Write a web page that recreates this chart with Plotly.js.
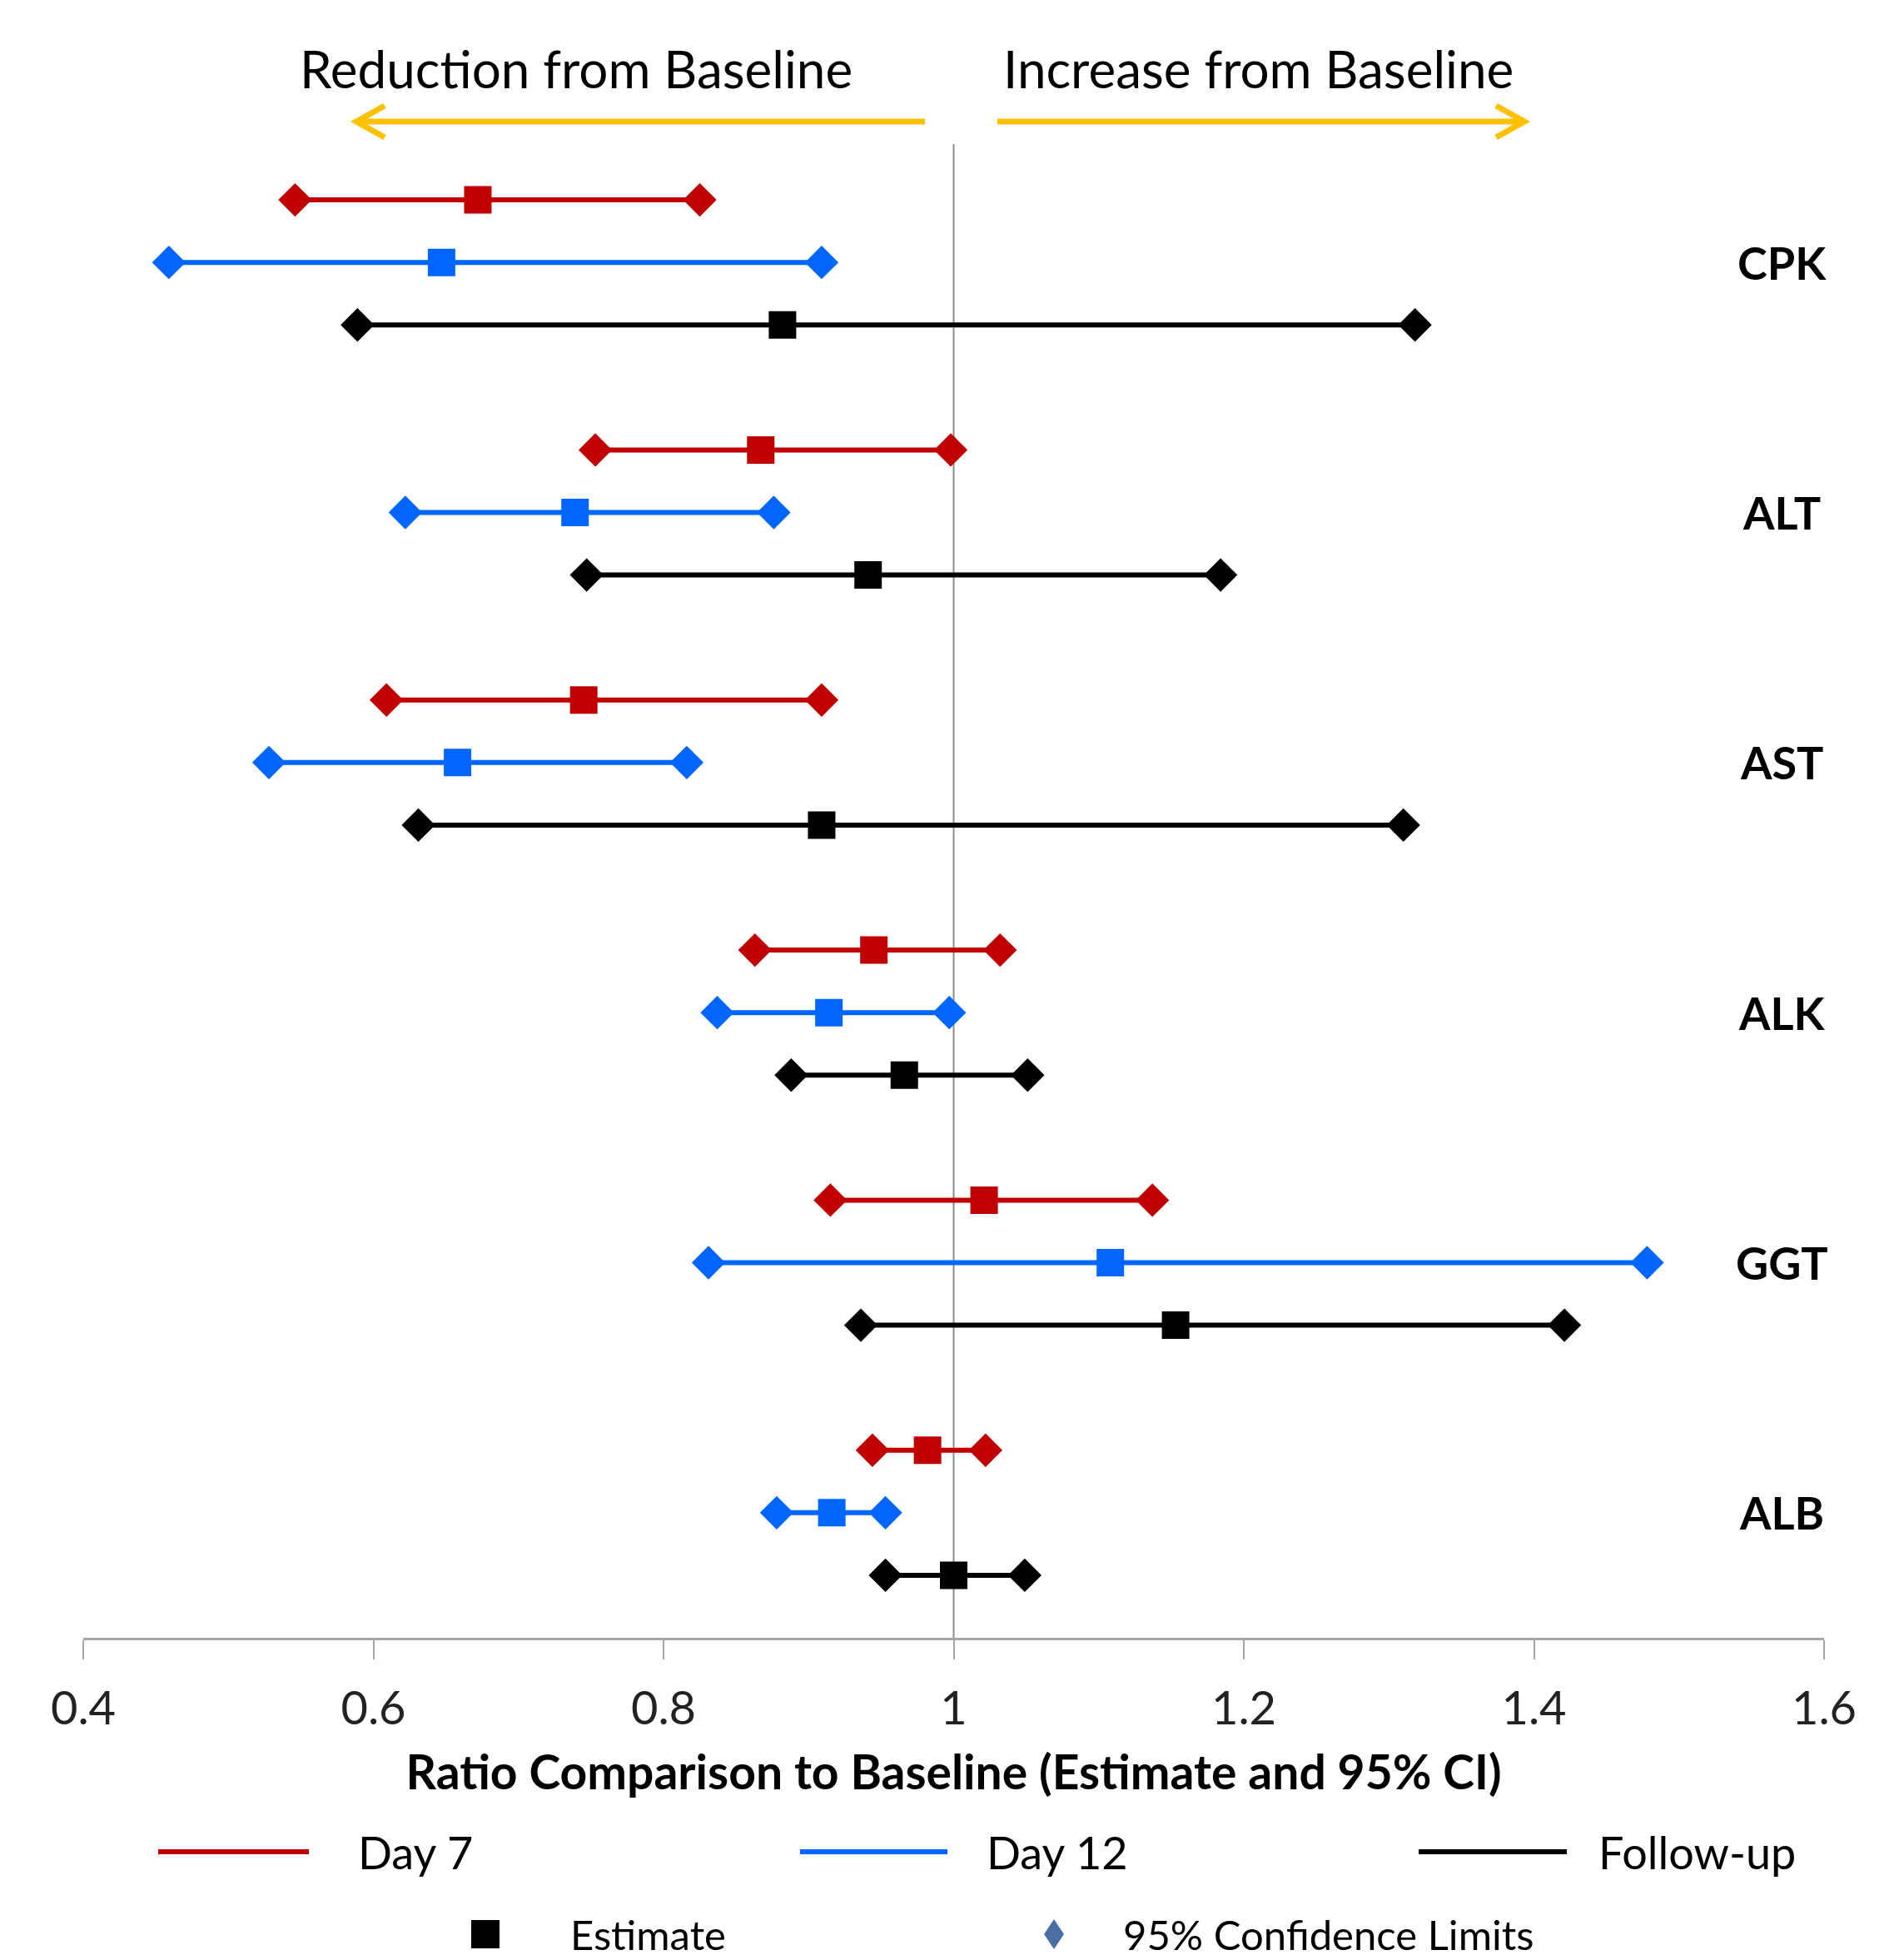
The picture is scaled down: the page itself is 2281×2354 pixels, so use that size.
<!DOCTYPE html>
<html>
<head>
<meta charset="utf-8">
<script src="https://cdn.plot.ly/plotly-3.0.1.min.js"></script>
<style>html,body{margin:0;padding:0;background:#fff;}#chart{width:2281px;height:2354px;}</style>
</head>
<body>
<div id="chart"></div>
<script>
// ---- Data ----
const tests = ['CPK', 'ALT', 'AST', 'ALK', 'GGT', 'ALB'];
const seriesNames = ['Day 7', 'Day 12', 'Follow-up'];
const day7Lower = [0.546, 0.753, 0.609, 0.863, 0.915, 0.944];
const day7Estimate = [0.672, 0.867, 0.745, 0.945, 1.021, 0.982];
const day7Upper = [0.825, 0.998, 0.909, 1.032, 1.137, 1.022];
const day12Lower = [0.459, 0.622, 0.528, 0.837, 0.831, 0.878];
const day12Estimate = [0.647, 0.739, 0.658, 0.914, 1.108, 0.916];
const day12Upper = [0.909, 0.876, 0.816, 0.997, 1.478, 0.953];
const followLower = [0.589, 0.747, 0.631, 0.888, 0.936, 0.953];
const followEstimate = [0.882, 0.941, 0.909, 0.966, 1.153, 1.000];
const followUpper = [1.318, 1.184, 1.310, 1.051, 1.421, 1.049];
const tickVals = [0.4, 0.6, 0.8, 1.0, 1.2, 1.4, 1.6];
const tickText = ['0.4', '0.6', '0.8', '1', '1.2', '1.4', '1.6'];

// ---- Styling ----
const colors = ['#C00000', '#0066FF', '#000000'];
const FONT = 'Lato, "Open Sans", "DejaVu Sans", sans-serif';
const W = 2281, H = 2354;
const M = {l: 100, r: 90, t: 165, b: 387};
const PW = W - M.l - M.r, PH = H - M.t - M.b;
const px = x => (x - M.l) / PW;          // pixel -> paper (x)
const py = y => (M.t + PH - y) / PH;     // pixel -> paper (y)

const groups = [
  [day7Lower, day7Estimate, day7Upper],
  [day12Lower, day12Estimate, day12Upper],
  [followLower, followEstimate, followUpper]
];
const rowPos = (i, j) => i * 4 + j;

const traces = [];
groups.forEach((g, j) => {
  const [lo, est, hi] = g;
  const xs = [], ys = [];
  tests.forEach((t, i) => {
    xs.push(lo[i], hi[i], null);
    ys.push(rowPos(i, j), rowPos(i, j), null);
  });
  traces.push({
    type: 'scatter', mode: 'lines+markers', name: seriesNames[j] + ' 95% CI',
    x: xs, y: ys, showlegend: false, hoverinfo: 'x',
    line: {color: colors[j], width: 6},
    marker: {symbol: 'diamond', size: 31, color: colors[j], line: {width: 0}}
  });
});
groups.forEach((g, j) => {
  const est = g[1];
  traces.push({
    type: 'scatter', mode: 'markers', name: seriesNames[j] + ' Estimate',
    x: est, y: tests.map((t, i) => rowPos(i, j)), showlegend: false, hoverinfo: 'x',
    marker: {symbol: 'square', size: 33, color: colors[j], line: {width: 0}}
  });
});

const annotations = [];
tests.forEach((t, i) => {
  annotations.push({
    xref: 'paper', yref: 'y', x: px(2140), y: rowPos(i, 1), text: '<b>' + t + '</b>',
    showarrow: false, xanchor: 'center', yanchor: 'middle',
    font: {family: FONT, size: 54, color: '#000'}
  });
});
annotations.push(
  {xref: 'paper', yref: 'paper', x: px(692), y: py(82), text: 'Reduction from Baseline', showarrow: false,
   xanchor: 'center', yanchor: 'middle', font: {family: FONT, size: 62, color: '#000'}},
  {xref: 'paper', yref: 'paper', x: px(1511), y: py(82), text: 'Increase from Baseline', showarrow: false,
   xanchor: 'center', yanchor: 'middle', font: {family: FONT, size: 62, color: '#000'}}
);
// legend texts
const legRow1 = 2224, legRow2 = 2323;
const legLines = [[190, 371, 428], [961, 1138, 1183], [1704, 1882, 1918]];
legLines.forEach((L, j) => {
  annotations.push({xref: 'paper', yref: 'paper', x: px(L[2]), y: py(legRow1), text: seriesNames[j],
    showarrow: false, xanchor: 'left', yanchor: 'middle', font: {family: FONT, size: 54, color: '#000'}});
});
annotations.push(
  {xref: 'paper', yref: 'paper', x: px(683), y: py(legRow2), text: 'Estimate', showarrow: false,
   xanchor: 'left', yanchor: 'middle', font: {family: FONT, size: 49, color: '#000'}},
  {xref: 'paper', yref: 'paper', x: px(1347), y: py(legRow2), text: '95% Confidence Limits', showarrow: false,
   xanchor: 'left', yanchor: 'middle', font: {family: FONT, size: 49, color: '#000'}}
);

const orange = '#FFC000';
const shapes = [
  // reference line at ratio 1
  {type: 'line', xref: 'x', yref: 'paper', x0: 1, x1: 1, y0: 0, y1: py(173), line: {color: '#8C8C8C', width: 2}, layer: 'below'},
  // arrows
  {type: 'line', xref: 'paper', yref: 'paper', x0: px(1111), x1: px(430), y0: py(146), y1: py(146), line: {color: orange, width: 7}},
  {type: 'path', xref: 'paper', yref: 'paper',
   path: `M ${px(462)},${py(127)} L ${px(428)},${py(146)} L ${px(462)},${py(165)}`, line: {color: orange, width: 7}},
  {type: 'line', xref: 'paper', yref: 'paper', x0: px(1198), x1: px(1829), y0: py(146), y1: py(146), line: {color: orange, width: 7}},
  {type: 'path', xref: 'paper', yref: 'paper',
   path: `M ${px(1797)},${py(127)} L ${px(1831)},${py(146)} L ${px(1797)},${py(165)}`, line: {color: orange, width: 7}}
];
legLines.forEach((L, j) => {
  shapes.push({type: 'line', xref: 'paper', yref: 'paper', x0: px(L[0]), x1: px(L[1]), y0: py(legRow1), y1: py(legRow1),
    line: {color: colors[j], width: 6}});
});
shapes.push(
  {type: 'rect', xref: 'paper', yref: 'paper', x0: px(583 - 17), x1: px(583 + 17), y0: py(legRow2 + 17), y1: py(legRow2 - 17),
   fillcolor: '#000', line: {width: 0}},
  {type: 'path', xref: 'paper', yref: 'paper',
   path: `M ${px(1266 - 12)},${py(legRow2)} L ${px(1266)},${py(legRow2 - 18)} L ${px(1266 + 12)},${py(legRow2)} L ${px(1266)},${py(legRow2 + 18)} Z`,
   fillcolor: '#4A6FA5', line: {width: 0}}
);

const layout = {
  width: W, height: H,
  margin: M,
  paper_bgcolor: '#fff', plot_bgcolor: '#fff',
  font: {family: FONT, color: '#000'},
  showlegend: false,
  xaxis: {
    range: [0.4, 1.6], tickvals: tickVals, ticktext: tickText,
    showgrid: false, zeroline: false, showline: true, linecolor: '#A6A6A6', linewidth: 3,
    ticks: 'outside', ticklen: 23, tickwidth: 2, tickcolor: '#A6A6A6',
    ticklabelstandoff: 11,
    tickfont: {family: FONT, size: 56, color: '#222'},
    title: {text: '<b>Ratio Comparison to Baseline (Estimate and 95% CI)</b>', standoff: 27,
            font: {family: FONT, size: 57, color: '#000'}},
    fixedrange: true
  },
  yaxis: {
    range: [23, -1], showgrid: false, zeroline: false, showline: false,
    showticklabels: false, ticks: '', fixedrange: true
  },
  annotations: annotations,
  shapes: shapes
};

Plotly.newPlot('chart', traces, layout, {displayModeBar: false, staticPlot: true});
</script>
</body>
</html>
